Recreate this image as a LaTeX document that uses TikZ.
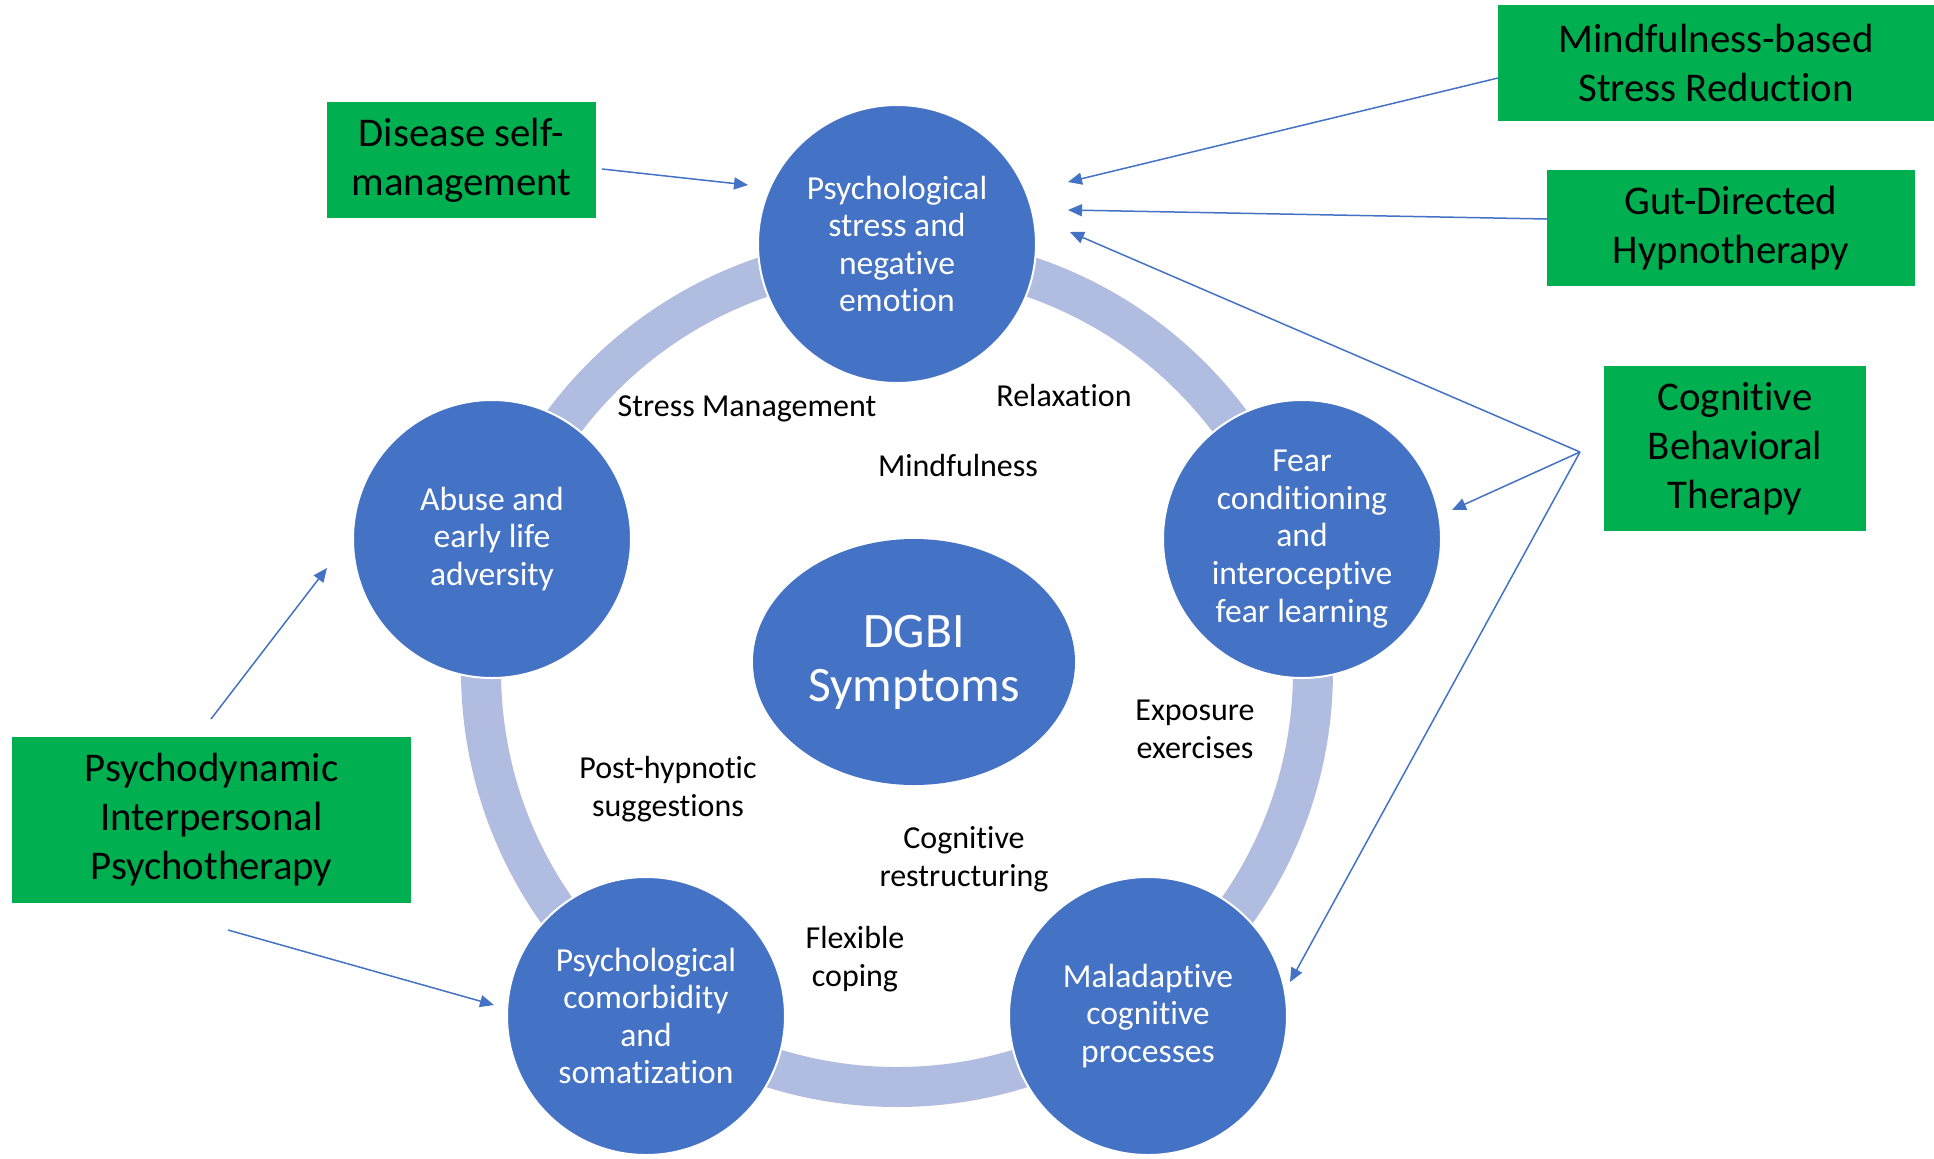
\documentclass[tikz,border=0pt]{standalone}
\usepackage{fontspec}
\setmainfont{Carlito}[Ligatures={CommonOff,ContextualOff}]
\usetikzlibrary{shapes.geometric,arrows.meta}
\definecolor{cblue}{HTML}{4472C4}
\definecolor{cring}{HTML}{B0BDE0}
\definecolor{cgreen}{HTML}{00B050}
\begin{document}
\begin{tikzpicture}[x=0.5pt,y=-0.5pt,
  bub/.style={circle, fill=cblue, draw=white, line width=1pt, minimum size=139pt, inner sep=0pt, text=white, align=center, font=\fontsize{16.8}{18.8}\selectfont},
  gbox/.style={rectangle, fill=cgreen, inner sep=0pt, align=center, font=\fontsize{20.4}{24.5}\selectfont},
  lab/.style={align=center, font=\fontsize{16}{19}\selectfont},
  arr/.style={draw=cblue, line width=0.75pt, -{Triangle[length=7pt,width=6pt]}}
]
\useasboundingbox (0,0) rectangle (1934,1158);
\fill[white] (0,0) rectangle (1934,1158);

% ring
\draw[cring, line width=20pt] (897,671) circle[radius=208pt];

% circles
\node[bub] (top) at (897,244) {Psychological\\stress and\\negative\\emotion};
\node[bub] (left) at (492,539) {Abuse and\\early life\\adversity};
\node[bub] (right) at (1302,539) {Fear\\conditioning\\and\\interoceptive\\fear learning};
\node[bub] (bl) at (646,1016) {Psychological\\comorbidity\\and\\somatization};
\node[bub] (br) at (1148,1016) {Maladaptive\\cognitive\\processes};
\node[ellipse, fill=cblue, minimum width=161pt, minimum height=123pt, inner sep=0pt, text=white, align=center, font=\fontsize{24.8}{27}\selectfont] (dgbi) at (914,662) {DGBI\\Symptoms};

% labels
\node[lab] (l1) at (747,408.5) {Stress Management};
\node[lab] (l2) at (1064,395) {Relaxation};
\node[lab] (l3) at (958,465) {Mindfulness};
\node[lab] (l4) at (1195,729) {Exposure\\exercises};
\node[lab] (l5) at (668,789) {Post-hypnotic\\suggestions};
\node[lab] (l6) at (964,859) {Cognitive\\restructuring};
\node[lab] (l7) at (855,959) {Flexible\\coping};

% green boxes
\node[gbox, minimum width=134.5pt, minimum height=58pt] (dsm) at (461.5,160) {Disease self-\\management};
\node[gbox, minimum width=218pt, minimum height=58pt] (mbsr) at (1716,63) {Mindfulness-based\\Stress Reduction};
\node[gbox, minimum width=184pt, minimum height=58pt] (gdh) at (1731,228) {Gut-Directed\\Hypnotherapy};
\node[gbox, minimum width=131pt, minimum height=82.5pt] (cbt) at (1735,448.5) {Cognitive\\Behavioral\\Therapy};
\node[gbox, minimum width=199.5pt, minimum height=83pt] (pip) at (211.5,820) {Psychodynamic\\Interpersonal\\Psychotherapy};

% connector end points
\coordinate (dsmS) at (602,169);
\coordinate (dsmT) at (748,185);
\coordinate (mbsrS) at (1498,78);
\coordinate (mbsrT) at (1068,182);
\coordinate (gdhS) at (1547,219);
\coordinate (gdhT) at (1068,210);
\coordinate (cbtA) at (1580,452);
\coordinate (cbtT1) at (1070,232);
\coordinate (cbtT2) at (1452,510);
\coordinate (cbtT3) at (1290,982);
\coordinate (pipS1) at (211,719);
\coordinate (pipT1) at (327,568);
\coordinate (pipS2) at (228,930);
\coordinate (pipT2) at (494,1005);

\draw[arr] (dsmS) -- (dsmT);
\draw[arr] (mbsrS) -- (mbsrT);
\draw[arr] (gdhS) -- (gdhT);
\draw[arr] (cbtA) -- (cbtT1);
\draw[arr] (cbtA) -- (cbtT2);
\draw[arr] (cbtA) -- (cbtT3);
\draw[arr] (pipS1) -- (pipT1);
\draw[arr] (pipS2) -- (pipT2);
\end{tikzpicture}
\end{document}
